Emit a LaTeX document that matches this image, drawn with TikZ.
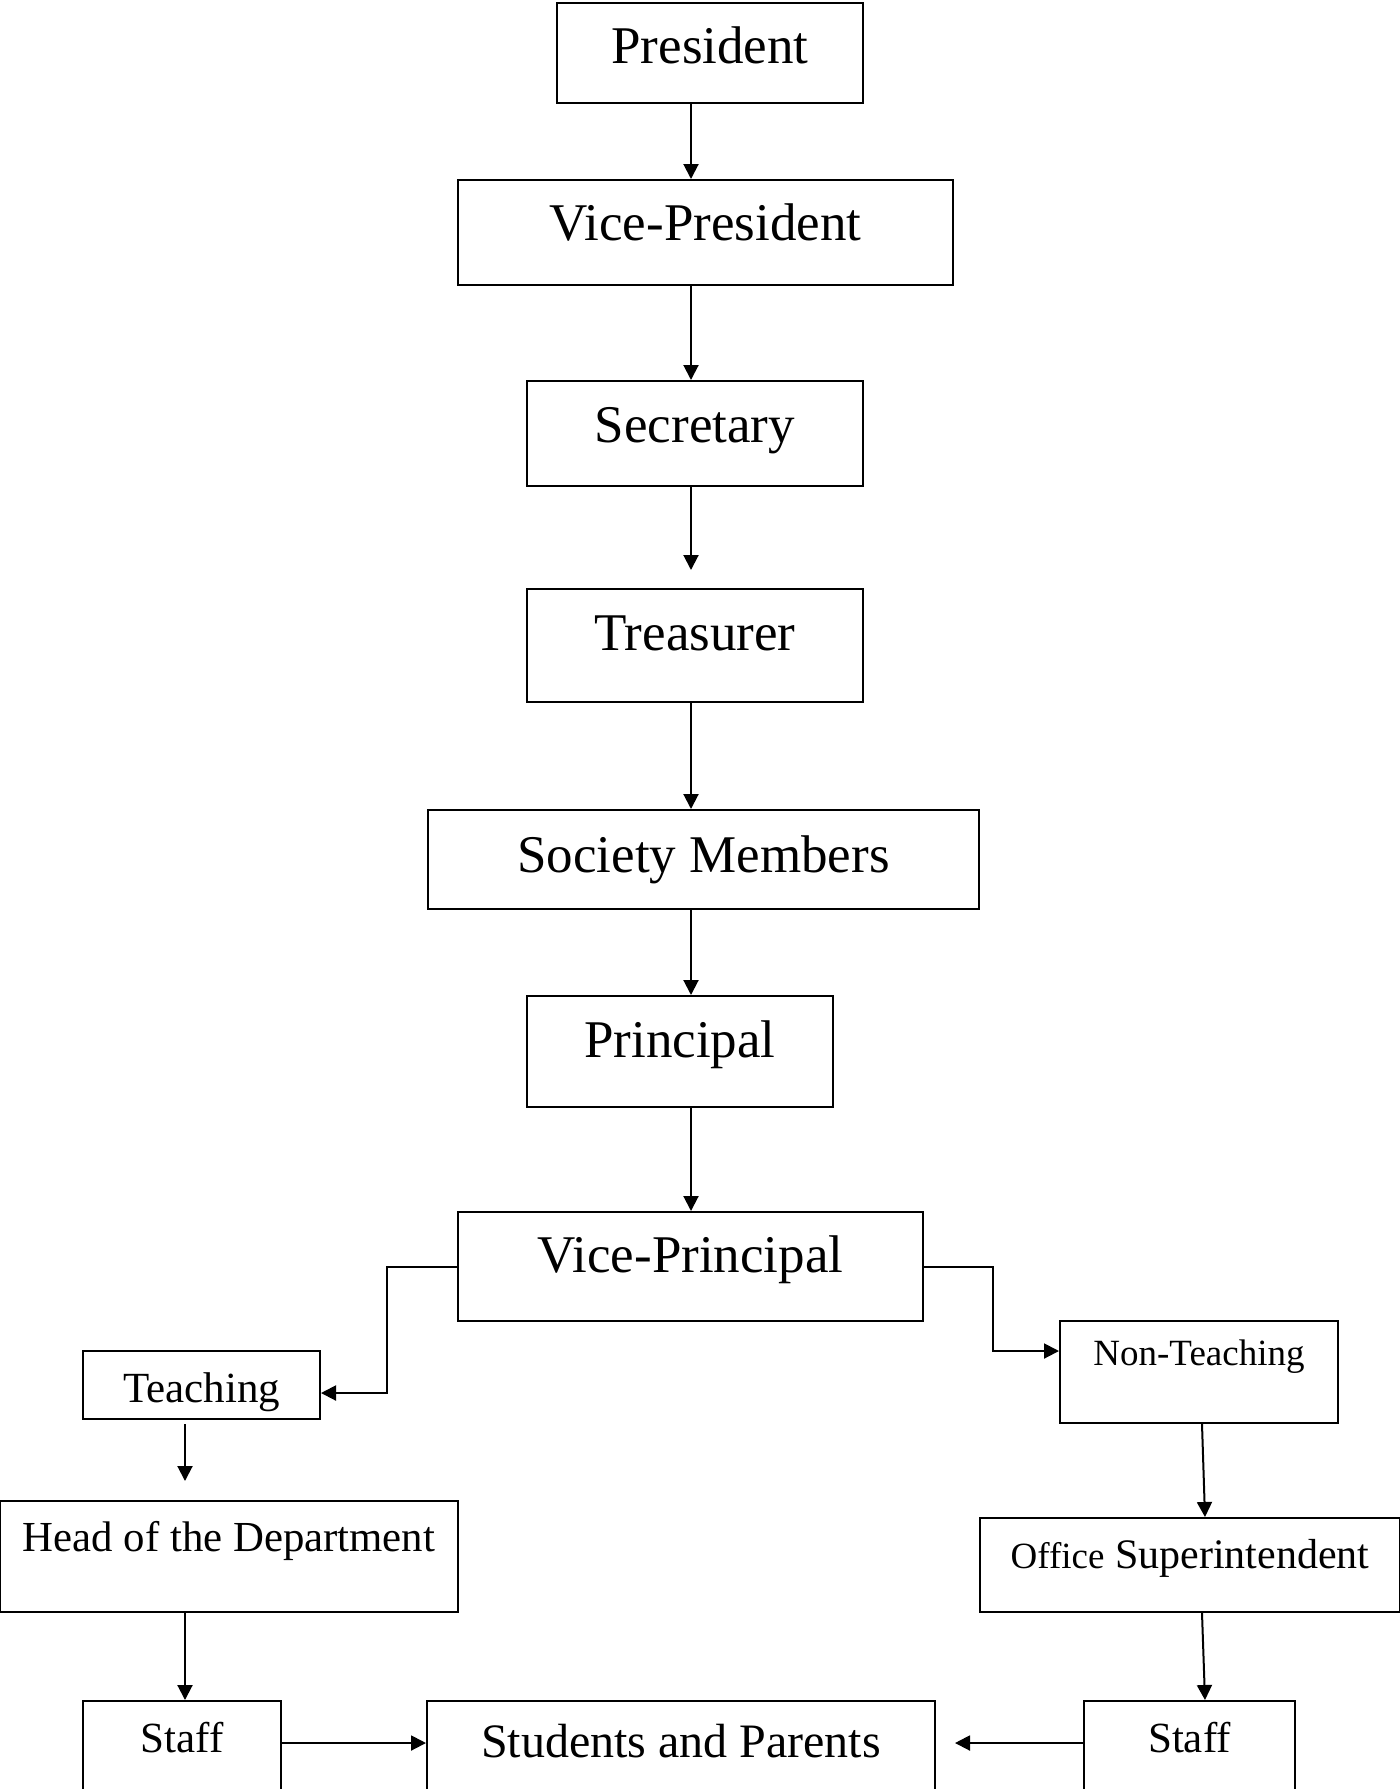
\documentclass[tikz,border=0pt]{standalone}
\usepackage{fontspec}
\setmainfont{Liberation Serif}
\usetikzlibrary{arrows.meta}

\tikzset{
  box/.style={draw, line width=1pt, inner sep=0pt, anchor=base},
  arr/.style={-{Triangle[length=7.5pt,width=7.5pt]}, line width=1pt},
  big/.style={font=\fontsize{26.5}{30}\selectfont},
  mid/.style={font=\fontsize{21.5}{25}\selectfont},
  small/.style={font=\fontsize{18.5}{22}\selectfont}
}

\begin{document}
\begin{tikzpicture}[x=0.5pt, y=-0.5pt]
            \useasboundingbox (0,0) rectangle (1399,1789);

            % Axes for the arrows
            \coordinate (axis) at (691,0);
            \coordinate (laxis) at (185,0);
            \coordinate (raxis) at (1202,0);
            \coordinate (rtip) at (1205,0);
            \coordinate (row) at (0,1743);

            % Define the main chain
            \node[box, big, minimum width=153pt, text height=30pt, text depth=20pt] (pres) at (710,63) {President};
            \node[box, big, minimum width=247.5pt, text height=30pt, text depth=22.5pt] (vpres) at (705.5,240) {Vice-President};
            \node[box, big, minimum width=168pt, text height=30.5pt, text depth=22pt] (sec) at (695,442) {Secretary};
            \node[box, big, minimum width=168pt, text height=30.5pt, text depth=26pt] (treas) at (695,650) {Treasurer};
            \node[box, big, minimum width=275.5pt, text height=31pt, text depth=18.5pt] (soc) at (703.5,872) {Society Members};
            \node[box, big, minimum width=153pt, text height=30.5pt, text depth=25pt] (prin) at (680,1057) {Principal};
            \node[box, big, minimum width=232.5pt, text height=30pt, text depth=24.5pt] (vprin) at (690.5,1272) {Vice-Principal};

            % Define the two branches
            \node[box, mid, minimum width=118.5pt, text height=25.5pt, text depth=8.5pt] (teach) at (201.5,1402) {Teaching};
            \node[box, small, minimum width=139pt, text height=22pt, text depth=29pt] (nont) at (1199,1365) {Non-Teaching};
            \node[box, font=\fontsize{21.4}{25}\selectfont, minimum width=229pt, text height=25pt, text depth=30.5pt] (hod) at (229,1551) {Head of the Department};
            \node[box, font=\fontsize{21}{25}\selectfont, minimum width=210pt, text height=25pt, text depth=22pt] (os) at (1190,1568) {{\fontsize{18.5}{22}\selectfont Office} Superintendent};
            \node[box, mid, minimum width=99pt, text height=25.5pt, text depth=40pt] (staffl) at (182,1752) {Staff};
            \node[box, font=\fontsize{24}{28}\selectfont, minimum width=254pt, text height=28pt, text depth=40pt] (stud) at (681,1757) {Students and Parents};
            \node[box, mid, minimum width=105.5pt, text height=25.5pt, text depth=40pt] (staffr) at (1189.5,1752) {Staff};

            % Draw arrows of the main chain
            \draw[arr] (pres.south -| axis) -- (vpres.north -| axis);
            \draw[arr] (vpres.south -| axis) -- (sec.north -| axis);
            \draw[arr, shorten >=9pt] (sec.south -| axis) -- (treas.north -| axis);
            \draw[arr] (treas.south -| axis) -- (soc.north -| axis);
            \draw[arr] (soc.south -| axis) -- (prin.north -| axis);
            \draw[arr] (prin.south -| axis) -- (vprin.north -| axis);

            % Draw branches
            \draw[arr] (vprin.west) -- ++(-70,0) |- ([yshift=-4pt]teach.east);
            \draw[arr] (vprin.east) -- ++(69,0) |- ([yshift=10.5pt]nont.west);

            \draw[arr, shorten <=2pt, shorten >=9.5pt] (teach.south -| laxis) -- (hod.north -| laxis);
            \draw[arr] (hod.south -| laxis) -- (staffl.north -| laxis);

            \draw[arr] (nont.south -| raxis) -- (os.north -| rtip);
            \draw[arr] (os.south -| raxis) -- (staffr.north -| rtip);

            \draw[arr] (staffl.east |- row) -- (stud.west |- row);
            \draw[arr, shorten >=9.5pt] (staffr.west |- row) -- (stud.east |- row);
\end{tikzpicture}
\end{document}
